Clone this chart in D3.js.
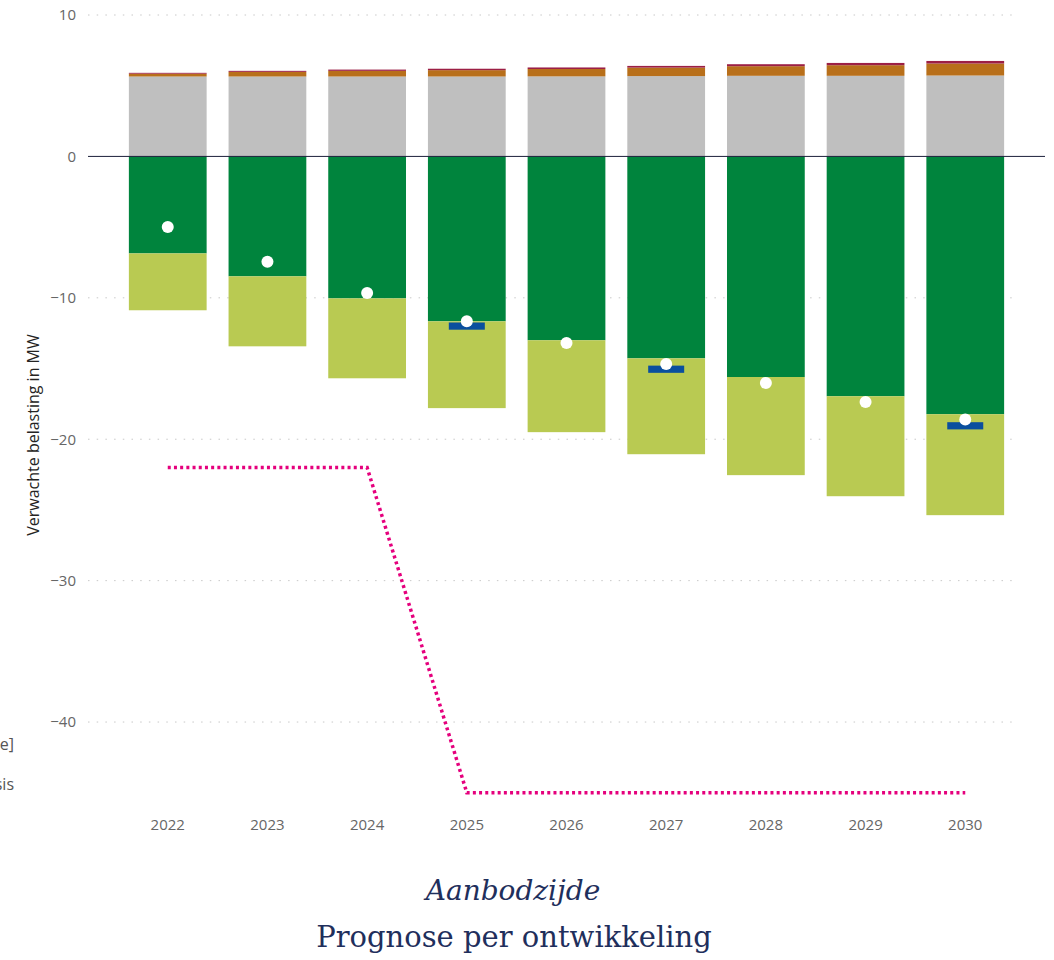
<!DOCTYPE html>
<html>
<head>
<meta charset="utf-8">
<script src="https://cdn.jsdelivr.net/npm/d3@7"></script>
<style>
  html, body { margin: 0; padding: 0; background: #fff; }
  svg { display: block; }
</style>
</head>
<body>
<svg id="chart" width="1054" height="960"></svg>
<script>
// Years on the x axis
const years = ["2022", "2023", "2024", "2025", "2026", "2027", "2028", "2029", "2030"];

// Demand side (positive, MW), stacked from zero upward
const demandBase   = [5.65, 5.65, 5.65, 5.65, 5.66, 5.68, 5.7, 5.7, 5.72];
const demandGrowth = [0.2, 0.33, 0.4, 0.45, 0.52, 0.6, 0.68, 0.75, 0.85];
const demandOther  = [0.06, 0.07, 0.09, 0.1, 0.11, 0.12, 0.14, 0.16, 0.18];

// Supply side (negative, MW), stacked from zero downward
const supplySolar  = [-6.86, -8.48, -10.04, -11.66, -13.0, -14.28, -15.6, -16.96, -18.23];
const supplyExtra  = [-4.02, -4.95, -5.65, -6.14, -6.5, -6.78, -6.94, -7.07, -7.14];

// Point markers
const netLoad      = [-5.0, -7.45, -9.66, -11.66, -13.19, -14.68, -16.02, -17.37, -18.6];
const peakYears    = ["2025", "2027", "2030"];
const peakValues   = [-12.0, -15.05, -19.05];

// Capacity limit (dotted line)
const capacity     = [-22, -22, -22, -45, -45, -45, -45, -45, -45];

// Axis ticks
const yTicks = [10, 0, -10, -20, -30, -40];

const colors = {
  base: "#bfbfbf",
  growth: "#b86f1a",
  other: "#9c1f45",
  solar: "#00843d",
  extra: "#b9ca52",
  peak: "#0a4f9e",
  dot: "#ffffff",
  cap: "#e5007d"
};

const svg = d3.select("#chart");

const x = d3.scaleBand()
  .domain(years)
  .range([88, 1045])
  .paddingInner(0.22)
  .paddingOuter(0.41);

const y = d3.scaleLinear()
  .domain([-45, 10])
  .range([156 + 45 * 14.15, 15]);

// Dotted gridlines
const grid = svg.append("g");
grid.selectAll("line")
  .data(yTicks.filter(t => t !== 0))
  .join("line")
  .attr("x1", 88).attr("x2", 1012)
  .attr("y1", d => y(d)).attr("y2", d => y(d))
  .attr("stroke", "#c8c8c8")
  .attr("stroke-width", 1)
  .attr("stroke-dasharray", "1.5,7.2");

// Y axis labels
const yAxis = svg.append("g")
  .attr("transform", "translate(76,0)")
  .call(d3.axisLeft(y).tickValues(yTicks).tickSize(0).tickPadding(0).tickFormat(d3.format("d")));
yAxis.select(".domain").remove();
yAxis.selectAll("text")
  .attr("fill", "#666")
  .attr("font-family", "'Open Sans', sans-serif")
  .attr("font-size", 15);

// Y axis title
svg.append("text")
  .attr("transform", `translate(39,${435}) rotate(-90)`)
  .attr("text-anchor", "middle")
  .attr("fill", "#252423")
  .attr("font-family", "'Open Sans', sans-serif")
  .attr("font-size", 16)
  .text("Verwachte belasting in MW");

// Stacked bars
const stackRows = years.map((yr, i) => ({
  year: yr,
  segs: [
    { y0: 0, y1: demandBase[i], c: colors.base },
    { y0: demandBase[i], y1: demandBase[i] + demandGrowth[i], c: colors.growth },
    { y0: demandBase[i] + demandGrowth[i], y1: demandBase[i] + demandGrowth[i] + demandOther[i], c: colors.other },
    { y0: 0, y1: supplySolar[i], c: colors.solar },
    { y0: supplySolar[i], y1: supplySolar[i] + supplyExtra[i], c: colors.extra }
  ]
}));

const bars = svg.append("g");
bars.selectAll("g")
  .data(stackRows)
  .join("g")
  .selectAll("rect")
  .data(d => d.segs.map(s => ({ ...s, year: d.year })))
  .join("rect")
  .attr("x", d => x(d.year))
  .attr("width", x.bandwidth())
  .attr("y", d => y(Math.max(d.y0, d.y1)))
  .attr("height", d => Math.abs(y(d.y0) - y(d.y1)))
  .attr("fill", d => d.c);

// Zero line
svg.append("line")
  .attr("x1", 88).attr("x2", 1045)
  .attr("y1", y(0)).attr("y2", y(0))
  .attr("stroke", "#1b1f3a")
  .attr("stroke-width", 1);

// Peak markers
svg.append("g").selectAll("rect")
  .data(peakYears.map((yr, i) => ({ year: yr, v: peakValues[i] })))
  .join("rect")
  .attr("x", d => x(d.year) + x.bandwidth() / 2 - 18)
  .attr("width", 36)
  .attr("y", d => y(d.v) - 3.6)
  .attr("height", 7.2)
  .attr("fill", colors.peak);

// Net load dots
svg.append("g").selectAll("circle")
  .data(years.map((yr, i) => ({ year: yr, v: netLoad[i] })))
  .join("circle")
  .attr("cx", d => x(d.year) + x.bandwidth() / 2)
  .attr("cy", d => y(d.v))
  .attr("r", 6)
  .attr("fill", colors.dot);

// Capacity line
const capLine = d3.line()
  .x((d, i) => x(years[i]) + x.bandwidth() / 2)
  .y(d => y(d));
svg.append("path")
  .datum(capacity)
  .attr("d", capLine)
  .attr("fill", "none")
  .attr("stroke", colors.cap)
  .attr("stroke-width", 3.5)
  .attr("stroke-dasharray", "3,3.2");

// X axis labels
const xAxis = svg.append("g")
  .attr("transform", "translate(0,819)")
  .call(d3.axisBottom(x).tickSize(0).tickPadding(0));
xAxis.select(".domain").remove();
xAxis.selectAll("text")
  .attr("fill", "#666")
  .attr("font-family", "'Open Sans', sans-serif")
  .attr("font-size", 15)
  .attr("dy", "0.7em");

// Legend labels running off the left edge
const legendLabels = ["Beschikbare capaciteit [indicatie]", "Transportcapaciteit basis"];
svg.append("g").selectAll("text")
  .data(legendLabels)
  .join("text")
  .attr("x", 14)
  .attr("y", (d, i) => 750 + i * 40)
  .attr("text-anchor", "end")
  .attr("fill", "#555")
  .attr("font-family", "'Open Sans', sans-serif")
  .attr("font-size", 16)
  .text(d => d);

// Captions
svg.append("text")
  .attr("x", 513).attr("y", 900)
  .attr("text-anchor", "middle")
  .attr("fill", "#1f2f5c")
  .attr("font-family", "'DejaVu Serif', serif")
  .attr("font-style", "italic")
  .attr("font-size", 28)
  .text("Aanbodzijde");

svg.append("text")
  .attr("x", 514).attr("y", 947)
  .attr("text-anchor", "middle")
  .attr("fill", "#1f2f5c")
  .attr("font-family", "'DejaVu Serif', serif")
  .attr("font-size", 29)
  .text("Prognose per ontwikkeling");
</script>
</body>
</html>
